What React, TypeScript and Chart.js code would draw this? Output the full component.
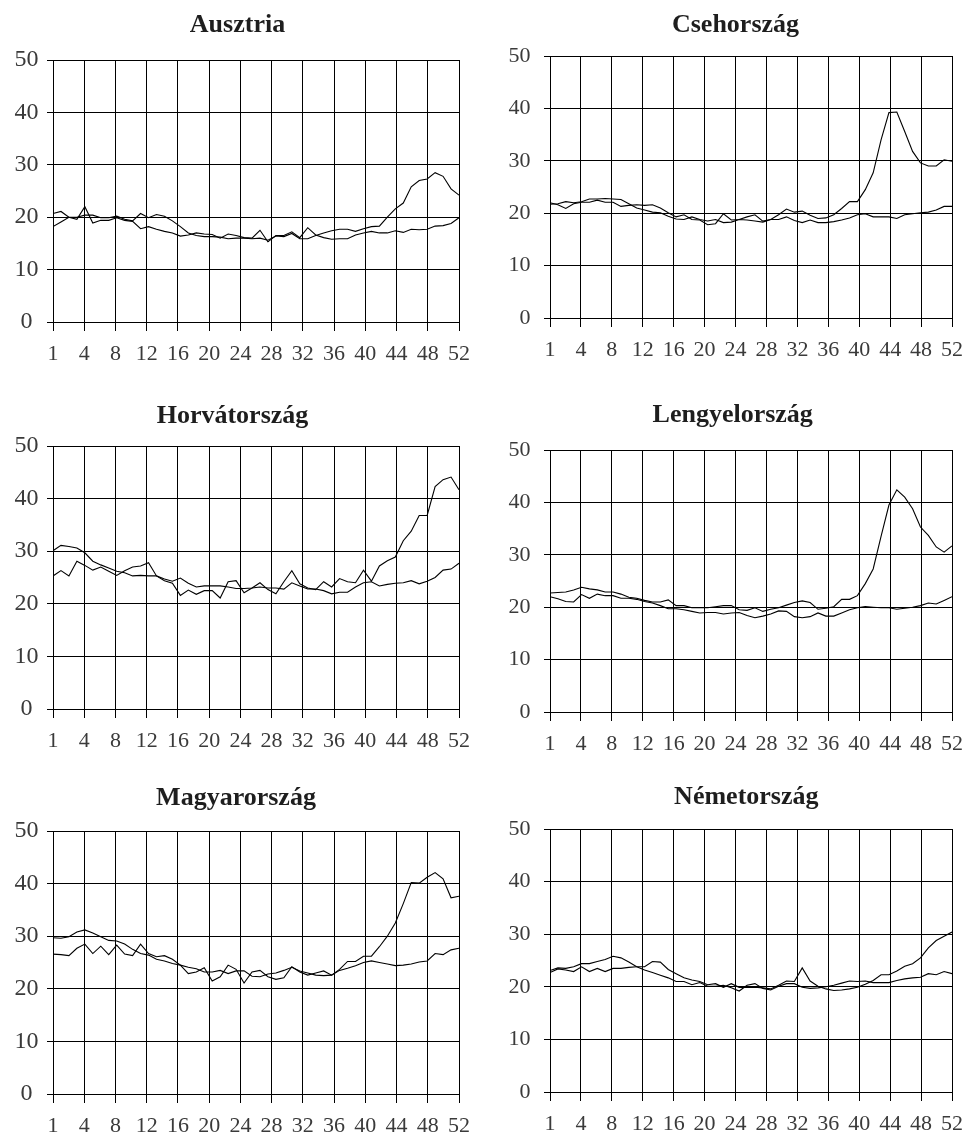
import { useEffect, useRef } from "react";
import { Chart, registerables } from "chart.js";

Chart.register(...registerables);

const weeks = [
  1, 2, 3, 4, 5, 6, 7, 8, 9, 10, 11, 12, 13, 14, 15, 16, 17, 18, 19, 20, 21, 22, 23, 24, 25, 26,
  27, 28, 29, 30, 31, 32, 33, 34, 35, 36, 37, 38, 39, 40, 41, 42, 43, 44, 45, 46, 47, 48, 49, 50, 51, 52,
];

const xTickLabels = ["1", "4", "8", "12", "16", "20", "24", "28", "32", "36", "40", "44", "48", "52"];
const yTicks = [0, 10, 20, 30, 40, 50];

const ausztriaA = [
  20.7, 21.1, 20.0, 19.6, 22.0, 18.9, 19.4, 19.4, 19.9, 19.4, 19.2, 17.8, 18.2, 17.7, 17.3, 17.0, 16.4,
  16.6, 17.0, 16.8, 16.7, 16.0, 16.8, 16.5, 16.1, 16.0, 17.5, 15.3, 16.5, 16.5, 17.2, 16.1, 18.0, 16.6,
  16.1, 15.8, 15.9, 15.9, 16.6, 17.0, 17.3, 17.0, 17.0, 17.4, 17.1, 17.7, 17.6, 17.7, 18.3, 18.4, 18.8, 19.9,
];
const ausztriaB = [
  18.2, 19.1, 20.0, 20.0, 20.4, 20.4, 19.9, 19.9, 20.2, 19.6, 19.3, 20.7, 19.9, 20.5, 20.2, 19.3, 18.2,
  17.0, 16.5, 16.3, 16.3, 16.2, 15.9, 16.0, 16.0, 15.9, 16.0, 15.6, 16.4, 16.3, 16.9, 15.9, 15.9, 16.5,
  17.0, 17.4, 17.7, 17.7, 17.3, 17.8, 18.2, 18.3, 20.0, 21.6, 22.7, 25.8, 27.0, 27.3, 28.5, 27.8, 25.4, 24.2,
];

const csehA = [
  22.0, 21.6, 20.9, 21.8, 22.1, 22.1, 22.5, 22.1, 22.1, 21.3, 21.5, 21.6, 21.5, 21.6, 21.0, 20.1, 19.3,
  19.7, 18.8, 18.7, 17.8, 18.0, 19.9, 18.7, 18.8, 19.3, 19.7, 18.5, 18.8, 19.7, 20.8, 20.2, 20.4, 19.6,
  19.0, 19.1, 19.7, 20.9, 22.2, 22.2, 24.5, 27.7, 34.0, 39.2, 39.3, 35.6, 31.8, 29.6, 29.0, 29.0, 30.2, 29.9,
];
const csehB = [
  21.7, 21.8, 22.2, 22.0, 22.2, 22.7, 22.7, 22.8, 22.7, 22.6, 21.8, 21.0, 20.6, 20.2, 20.1, 19.4, 18.9,
  18.8, 19.3, 18.8, 18.5, 18.8, 18.2, 18.3, 18.8, 18.7, 18.5, 18.3, 18.8, 18.8, 19.3, 18.6, 18.2, 18.7,
  18.2, 18.2, 18.4, 18.7, 19.1, 19.7, 19.9, 19.3, 19.3, 19.3, 19.0, 19.7, 19.9, 20.1, 20.2, 20.6, 21.3, 21.3,
];

const horvatA = [
  30.1, 31.1, 30.9, 30.6, 29.7, 28.1, 27.4, 26.8, 26.2, 25.9, 25.3, 25.4, 25.3, 25.3, 24.7, 24.3, 24.9,
  23.9, 23.2, 23.4, 23.4, 23.4, 23.2, 22.9, 22.9, 23.0, 23.2, 23.0, 23.0, 22.8, 24.0, 23.4, 22.8, 22.8,
  22.5, 21.9, 22.2, 22.2, 23.2, 24.0, 24.2, 23.4, 23.7, 23.9, 24.0, 24.4, 23.8, 24.3, 25.0, 26.4, 26.6, 27.7,
];
const horvatB = [
  25.3, 26.3, 25.3, 28.1, 27.3, 26.4, 27.0, 26.2, 25.4, 26.3, 27.0, 27.2, 27.8, 25.3, 24.4, 23.9, 21.6,
  22.6, 21.8, 22.5, 22.5, 21.1, 24.2, 24.4, 22.1, 23.0, 24.0, 22.7, 21.9, 24.2, 26.3, 23.8, 23.0, 22.7,
  24.2, 23.2, 24.8, 24.2, 24.0, 26.4, 24.3, 27.2, 28.2, 28.9, 32.0, 33.8, 36.8, 36.8, 42.3, 43.6, 44.1, 41.7,
];

const lengyelA = [
  22.7, 22.8, 22.9, 23.3, 23.8, 23.5, 23.3, 22.9, 22.9, 22.5, 21.9, 21.7, 21.3, 21.0, 21.0, 21.4, 20.3,
  20.3, 19.9, 19.9, 19.9, 20.1, 20.3, 20.3, 19.5, 19.4, 19.9, 19.2, 19.6, 19.9, 20.4, 20.9, 21.2, 20.9,
  19.6, 19.8, 20.1, 21.5, 21.5, 22.2, 24.5, 27.3, 33.5, 39.5, 42.4, 41.0, 38.8, 35.3, 33.7, 31.5, 30.5, 31.7,
];
const lengyelB = [
  22.0, 21.6, 21.1, 21.0, 22.4, 21.7, 22.5, 22.2, 22.2, 21.7, 21.7, 21.5, 21.1, 20.8, 20.3, 19.7, 19.7,
  19.5, 19.2, 18.9, 19.0, 19.0, 18.7, 18.9, 19.0, 18.4, 18.0, 18.3, 18.7, 19.3, 19.2, 18.2, 18.0, 18.2,
  18.9, 18.3, 18.3, 18.9, 19.5, 19.9, 20.1, 20.0, 19.9, 19.9, 19.6, 19.8, 20.0, 20.3, 20.8, 20.6, 21.3, 22.0,
];

const magyarA = [
  29.7, 29.6, 29.9, 30.8, 31.2, 30.6, 29.9, 29.2, 29.1, 28.5, 27.5, 26.7, 26.4, 25.6, 25.3, 24.8, 24.5,
  24.1, 23.8, 23.2, 23.2, 23.5, 22.9, 23.4, 23.4, 22.4, 22.3, 22.8, 23.0, 23.5, 24.1, 23.4, 23.0, 22.6,
  22.5, 22.6, 23.7, 25.2, 25.2, 26.2, 26.2, 28.0, 30.0, 32.5, 36.2, 40.2, 40.1, 41.2, 42.1, 40.9, 37.3, 37.6,
];
const magyarB = [
  26.6, 26.5, 26.3, 27.7, 28.5, 26.7, 28.1, 26.5, 28.3, 26.6, 26.3, 28.5, 26.7, 26.1, 26.3, 25.6, 24.5,
  22.9, 23.2, 24.0, 21.5, 22.3, 24.5, 23.7, 21.1, 23.2, 23.5, 22.3, 21.8, 22.1, 24.2, 23.2, 22.6, 23.0,
  23.4, 22.6, 23.5, 23.9, 24.4, 25.0, 25.3, 25.0, 24.7, 24.4, 24.5, 24.7, 25.1, 25.3, 26.7, 26.5, 27.4, 27.7,
];

const nemetA = [
  23.1, 23.6, 23.5, 23.8, 24.4, 24.4, 24.8, 25.2, 25.8, 25.5, 24.7, 23.8, 23.2, 22.7, 22.2, 21.7, 21.0,
  21.0, 20.4, 20.8, 20.1, 20.1, 20.3, 19.8, 19.2, 20.3, 20.6, 19.7, 19.4, 20.1, 20.6, 20.6, 19.9, 19.7,
  19.8, 20.0, 20.3, 20.7, 21.1, 21.0, 21.1, 20.8, 20.8, 20.8, 21.2, 21.5, 21.7, 21.8, 22.5, 22.3, 22.9, 22.5,
];
const nemetB = [
  22.7, 23.4, 23.2, 22.9, 23.8, 22.9, 23.5, 22.9, 23.5, 23.5, 23.7, 23.8, 23.8, 24.8, 24.7, 23.3, 22.5,
  21.7, 21.3, 21.0, 20.4, 20.6, 19.9, 20.6, 19.9, 19.9, 19.9, 19.8, 19.6, 20.3, 21.1, 21.0, 23.6, 21.1,
  20.1, 19.6, 19.3, 19.4, 19.6, 19.9, 20.5, 21.2, 22.3, 22.3, 23.0, 23.9, 24.4, 25.5, 27.4, 28.8, 29.6, 30.4,
];

const SERIF = "'Liberation Serif', 'Times New Roman', serif";
const X_AXIS_H = 44;

type PanelCfg = {
  title: string;
  a: number[];
  b: number[];
  col: 0 | 1;
  titleX: number;
  titleBase: number;
  plotTop: number;
  plotBottom: number;
};

const COLS = [
  { canvasLeft: 0, canvasWidth: 480, plotLeft: 53, plotRight: 461 },
  { canvasLeft: 488, canvasWidth: 485, plotLeft: 550, plotRight: 958 },
];

const panels: PanelCfg[] = [
  { title: "Ausztria", a: ausztriaA, b: ausztriaB, col: 0, titleX: 237.5, titleBase: 31.7, plotTop: 60, plotBottom: 322 },
  { title: "Csehország", a: csehA, b: csehB, col: 1, titleX: 735.5, titleBase: 31.7, plotTop: 56, plotBottom: 318 },
  { title: "Horvátország", a: horvatA, b: horvatB, col: 0, titleX: 232.5, titleBase: 422.7, plotTop: 446, plotBottom: 709 },
  { title: "Lengyelország", a: lengyelA, b: lengyelB, col: 1, titleX: 732.7, titleBase: 422.3, plotTop: 450, plotBottom: 712 },
  { title: "Magyarország", a: magyarA, b: magyarB, col: 0, titleX: 236, titleBase: 804.7, plotTop: 831, plotBottom: 1094 },
  { title: "Németország", a: nemetA, b: nemetB, col: 1, titleX: 746.3, titleBase: 804, plotTop: 829, plotBottom: 1092 },
];

const panelTitlePlugin = {
  id: "panelTitle",
  afterDraw(chart: any, _args: any, opts: any) {
    const ctx = chart.ctx;
    ctx.save();
    ctx.font = `bold 26px ${SERIF}`;
    ctx.fillStyle = "#1e1e1e";
    ctx.textAlign = "center";
    ctx.textBaseline = "alphabetic";
    ctx.fillText(opts.text, opts.x, opts.y);
    ctx.restore();
  },
};

function Panel({ cfg }: { cfg: PanelCfg }) {
  const ref = useRef<HTMLCanvasElement | null>(null);
  const col = COLS[cfg.col];
  const canvasTop = Math.floor(cfg.titleBase - 30);
  const canvasHeight = Math.min(cfg.plotBottom + X_AXIS_H, 1138) - canvasTop;
  const xAxisH = canvasTop + canvasHeight - cfg.plotBottom;
  const padR = col.canvasLeft + col.canvasWidth - col.plotRight;
  const yW = col.plotLeft - col.canvasLeft;
  const leftCol = cfg.col === 0;

  useEffect(() => {
    if (!ref.current) return;
    const mk = (vals: number[]) => ({
      data: weeks.map((w, i) => ({ x: w, y: vals[i] })),
      borderColor: "#000",
      borderWidth: 1.1,
      pointRadius: 0,
      fill: false,
      tension: 0,
    });
    const chart = new Chart(ref.current, {
      type: "line",
      data: { datasets: [mk(cfg.a), mk(cfg.b)] },
      plugins: [panelTitlePlugin],
      options: {
        responsive: false,
        animation: false,
        devicePixelRatio: 1,
        layout: { padding: { left: 0, right: padR, top: cfg.plotTop - canvasTop, bottom: 0 } },
        plugins: {
          legend: { display: false },
          tooltip: { enabled: false },
          title: { display: false },
          panelTitle: { text: cfg.title, x: cfg.titleX - col.canvasLeft, y: cfg.titleBase - canvasTop },
        },
        scales: {
          x: {
            type: "linear",
            min: 1,
            max: 52,
            afterBuildTicks: (s: any) => {
              s.ticks = xTickLabels.map((_, j) => ({ value: 1 + (j * 51) / 13 }));
            },
            afterFit: (s: any) => {
              s.height = xAxisH;
            },
            ticks: {
              autoSkip: false,
              maxRotation: 0,
              minRotation: 0,
              padding: 10,
              color: "#3a3a3a",
              font: { family: SERIF, size: 22, lineHeight: 1.2 },
              callback: (_v: any, i: number) => xTickLabels[i],
            },
            grid: { color: "#000", lineWidth: 1, tickLength: 9, drawTicks: true },
            border: { color: "#000", width: 1 },
          },
          y: {
            type: "linear",
            min: yTicks[0],
            max: yTicks[yTicks.length - 1],
            afterBuildTicks: (s: any) => {
              s.ticks = yTicks.map((v) => ({ value: v }));
            },
            afterFit: (s: any) => {
              s.width = yW;
            },
            ticks: leftCol
              ? {
                  crossAlign: "center",
                  padding: 8.5,
                  color: "#3a3a3a",
                  font: { family: SERIF, size: 24, lineHeight: 1.2 },
                  callback: (v: any) => String(v),
                }
              : {
                  crossAlign: "near",
                  padding: 13.5,
                  color: "#3a3a3a",
                  font: { family: SERIF, size: 22, lineHeight: 1.2 },
                  callback: (v: any) => String(v),
                },
            grid: { color: "#000", lineWidth: 1, tickLength: 6, drawTicks: true },
            border: { color: "#000", width: 1 },
          },
        },
      } as any,
    });
    return () => chart.destroy();
  }, []);

  return (
    <canvas
      ref={ref}
      width={col.canvasWidth}
      height={canvasHeight}
      style={{
        position: "absolute",
        left: col.canvasLeft,
        top: canvasTop,
        width: col.canvasWidth,
        height: canvasHeight,
      }}
    />
  );
}

export default function App() {
  return (
    <div
      style={{
        position: "absolute",
        left: 0,
        top: 0,
        width: 973,
        height: 1138,
        overflow: "hidden",
        background: "#fff",
      }}
    >
      {panels.map((p) => (
        <Panel key={p.title} cfg={p} />
      ))}
    </div>
  );
}
